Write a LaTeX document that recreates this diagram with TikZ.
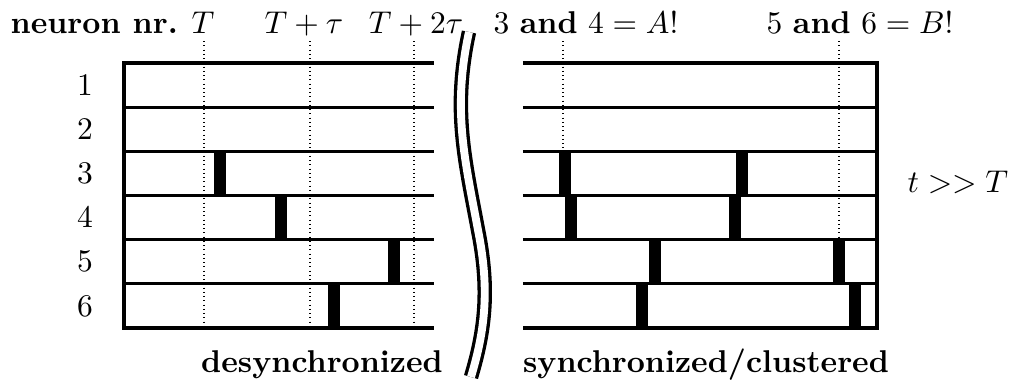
\documentclass[tikz,border=0pt]{standalone}
\usepackage{tikz}
\usetikzlibrary{positioning}
\tikzset{
  rowline/.style={line width=1pt},
  guide/.style={densely dotted, line width=0.35pt},
  spike/.style={fill=black, draw=none},
  toplabel/.style={anchor=base, inner sep=0pt},
  rowlabel/.style={anchor=center, inner sep=0pt},
  breakline/.style={double, double distance=2.5pt, line width=1.05pt},
}

\begin{document}
\begin{tikzpicture}[x=0.3175pt, y=-0.3175pt]
\useasboundingbox (0,0) rectangle (1009,381);
% labels on top
\node[anchor=base west, inner sep=0pt] (hdr) at (10,33) {\textbf{neuron nr.}};
\node[toplabel] (tT) at (203,33) {$T$};
\node[toplabel] (tT1) at (304,33) {$T+\tau$};
\node[toplabel] (tT2) at (416,33) {$T+2\tau$};
\node[toplabel] (grpA) at (586,33) {$3$ \textbf{and} $4=A!$};
\node[toplabel] (grpB) at (860,33) {$5$ \textbf{and} $6=B!$};
\node[toplabel] (tlong) at (958,192) {$t>>T$};
\node[toplabel] (desync) at (322,372) {\textbf{desynchronized}};
\node[toplabel] (sync) at (706,372) {\textbf{synchronized/clustered}};
\foreach \i in {1,...,6}
  \node[rowlabel] (n\i) at (85,{63+44.17*(\i-0.5)}) {$\i$};
% dotted guides
\foreach \x in {204,310,414}
  \draw[guide] (\x,41) -- (\x,328);
\draw[guide] (563,41) -- (563,151);
\draw[guide] (839,41) -- (839,240);
% spikes
\foreach \r/\x in {3/219.7,4/281.5,5/394,6/334.5,
                   3/565,3/742,4/571,4/735,5/655.5,5/839,6/642,6/854.7}
  \fill[spike] (\x-6,{63+44.17*(\r-1)}) rectangle (\x+6,{63+44.17*\r});
% row lines
\foreach \i in {1,...,5} {
  \draw[rowline] (124,{63+44.17*\i}) -- (434,{63+44.17*\i});
  \draw[rowline] (523,{63+44.17*\i}) -- (877,{63+44.17*\i});
}
\draw[rowline] (434,63) -- (124,63) -- (124,328) -- (434,328);
\draw[rowline] (523,63) -- (877,63) -- (877,328) -- (523,328);
% break
\draw[breakline] (469,32) .. controls (452,110) and (465,160) .. (478,230)
  .. controls (490,290) and (485,330) .. (471,377);
\end{tikzpicture}
\end{document}
